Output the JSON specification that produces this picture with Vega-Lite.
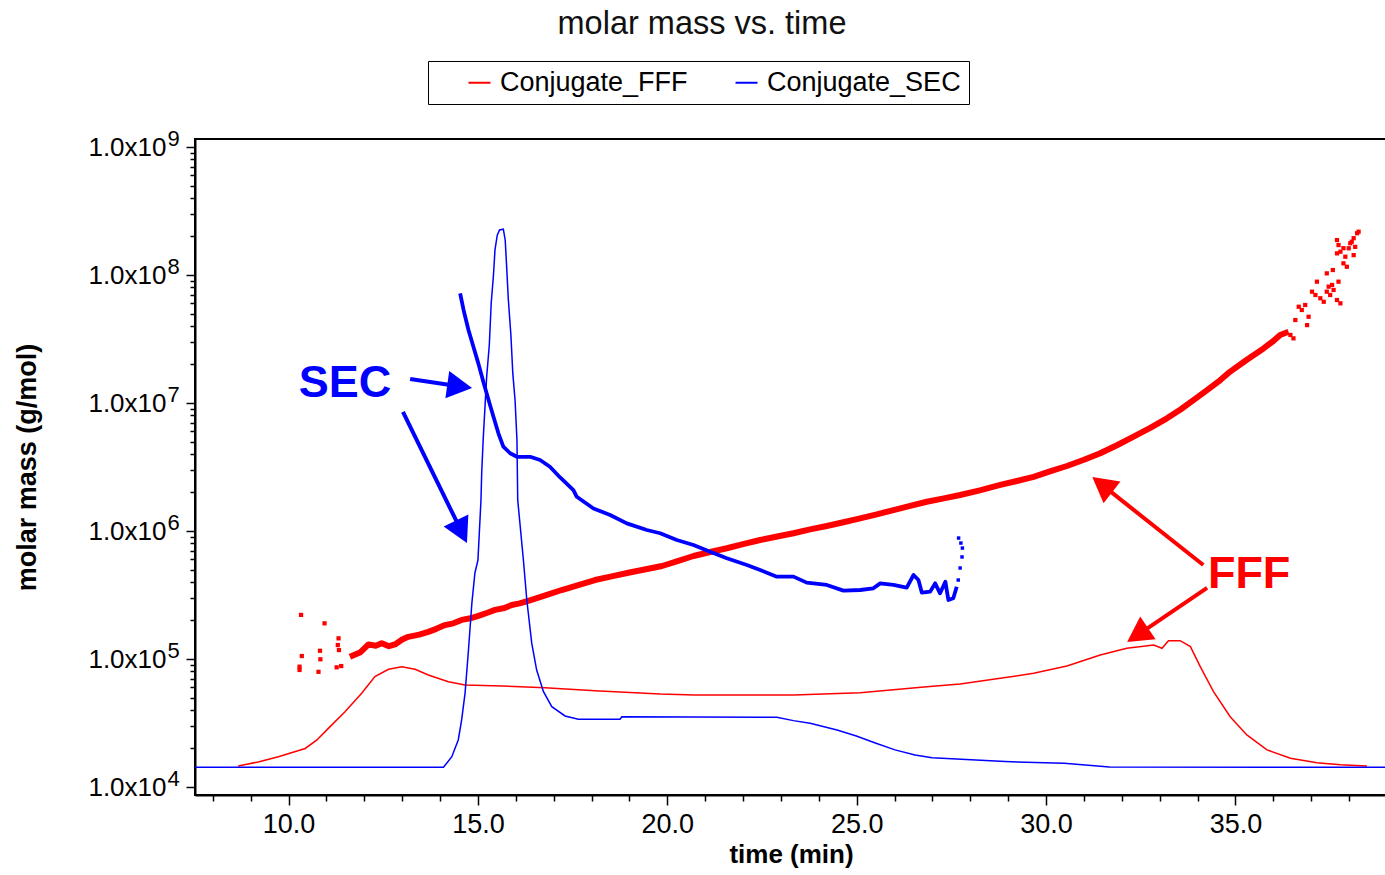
{
  "$schema": "https://vega.github.io/schema/vega-lite/v6.json",
  "width": 1192,
  "height": 656,
  "autosize": {"type": "none"},
  "padding": {"left": 195, "top": 139, "right": 0, "bottom": 80},
  "background": "white",
  "title": {
    "text": "molar mass vs. time",
    "anchor": "middle",
    "frame": "group",
    "dx": -89,
    "offset": 20,
    "fontSize": 32.5,
    "fontWeight": "normal",
    "font": "Liberation Sans",
    "color": "#111111"
  },
  "config": {
    "view": {"stroke": "#000000", "strokeWidth": 2},
    "axis": {
      "labelFont": "Liberation Sans",
      "titleFont": "Liberation Sans",
      "labelColor": "#000000",
      "titleColor": "#000000",
      "tickColor": "#000000",
      "domainColor": "#000000",
      "grid": false
    }
  },
  "datasets": {
    "fffSignal": [
      {"time": 8.67, "mass": 14600}, {"time": 9.2, "mass": 15700}, {"time": 9.73, "mass": 17250},
      {"time": 10.44, "mass": 20000}, {"time": 10.75, "mass": 23300}, {"time": 11.05, "mass": 28700},
      {"time": 11.49, "mass": 38700}, {"time": 11.93, "mass": 54000}, {"time": 12.28, "mass": 72800},
      {"time": 12.64, "mass": 83100}, {"time": 12.99, "mass": 87100}, {"time": 13.34, "mass": 83100},
      {"time": 13.69, "mass": 75000}, {"time": 14.22, "mass": 66500}, {"time": 14.66, "mass": 62700},
      {"time": 15.63, "mass": 61500}, {"time": 16.77, "mass": 59700}, {"time": 18.09, "mass": 56500},
      {"time": 19.81, "mass": 53300}, {"time": 20.73, "mass": 52400}, {"time": 23.33, "mass": 52400},
      {"time": 25.09, "mass": 54600}, {"time": 26.85, "mass": 60800}, {"time": 27.73, "mass": 63800},
      {"time": 28.79, "mass": 70700}, {"time": 29.67, "mass": 77300}, {"time": 30.55, "mass": 88100},
      {"time": 31.43, "mass": 107500}, {"time": 32.13, "mass": 121300}, {"time": 32.84, "mass": 128600},
      {"time": 33.06, "mass": 121300}, {"time": 33.23, "mass": 139000}, {"time": 33.54, "mass": 139000},
      {"time": 33.81, "mass": 125000}, {"time": 34.07, "mass": 87100}, {"time": 34.42, "mass": 55600},
      {"time": 34.86, "mass": 35400}, {"time": 35.3, "mass": 25500}, {"time": 35.83, "mass": 19500},
      {"time": 36.45, "mass": 16800}, {"time": 37.15, "mass": 15500}, {"time": 37.77, "mass": 14900},
      {"time": 38.47, "mass": 14600}
    ],
    "secSignal": [
      {"time": 7.53, "mass": 14250}, {"time": 14.09, "mass": 14250}, {"time": 14.31, "mass": 17250},
      {"time": 14.48, "mass": 23300}, {"time": 14.57, "mass": 33400}, {"time": 14.66, "mass": 54200},
      {"time": 14.75, "mass": 117500}, {"time": 14.84, "mass": 274000}, {"time": 14.92, "mass": 470000},
      {"time": 15.0, "mass": 593000}, {"time": 15.08, "mass": 1746000}, {"time": 15.1, "mass": 2900000},
      {"time": 15.14, "mass": 5300000}, {"time": 15.23, "mass": 16000000}, {"time": 15.3, "mass": 28400000},
      {"time": 15.35, "mass": 60100000}, {"time": 15.41, "mass": 100000000}, {"time": 15.45, "mass": 157000000},
      {"time": 15.51, "mass": 205000000}, {"time": 15.57, "mass": 225000000}, {"time": 15.67, "mass": 228000000},
      {"time": 15.72, "mass": 187000000}, {"time": 15.76, "mass": 113000000}, {"time": 15.8, "mass": 65800000},
      {"time": 15.87, "mass": 34000000}, {"time": 15.92, "mass": 17100000}, {"time": 15.98, "mass": 10500000},
      {"time": 16.03, "mass": 5140000}, {"time": 16.05, "mass": 1750000}, {"time": 16.2, "mass": 593000},
      {"time": 16.29, "mass": 289000}, {"time": 16.42, "mass": 133000}, {"time": 16.55, "mass": 82000},
      {"time": 16.73, "mass": 55600}, {"time": 16.95, "mass": 42400}, {"time": 17.3, "mass": 35900},
      {"time": 17.65, "mass": 33800}, {"time": 18.75, "mass": 33800}, {"time": 18.8, "mass": 35400},
      {"time": 22.89, "mass": 35100}, {"time": 23.33, "mass": 33000}, {"time": 23.77, "mass": 31500},
      {"time": 24.48, "mass": 27900}, {"time": 24.99, "mass": 25000}, {"time": 25.49, "mass": 22100},
      {"time": 26.01, "mass": 19500}, {"time": 26.54, "mass": 17800}, {"time": 26.99, "mass": 16900},
      {"time": 28.92, "mass": 15800}, {"time": 30.48, "mass": 15300}, {"time": 31.67, "mass": 14300},
      {"time": 39.0, "mass": 14250}
    ],
    "fffMass": [
      {"time": 11.62, "mass": 104000}, {"time": 11.9, "mass": 113000}, {"time": 12.11, "mass": 130000},
      {"time": 12.3, "mass": 127000}, {"time": 12.46, "mass": 133000}, {"time": 12.65, "mass": 126000},
      {"time": 12.81, "mass": 130000}, {"time": 13.0, "mass": 142000}, {"time": 13.16, "mass": 149000},
      {"time": 13.45, "mass": 155000}, {"time": 13.69, "mass": 163000}, {"time": 13.9, "mass": 172000},
      {"time": 14.13, "mass": 184000}, {"time": 14.35, "mass": 190000}, {"time": 14.57, "mass": 202000},
      {"time": 14.8, "mass": 208000}, {"time": 15.01, "mass": 217000}, {"time": 15.25, "mass": 230000},
      {"time": 15.45, "mass": 242000}, {"time": 15.7, "mass": 250000}, {"time": 15.89, "mass": 264000},
      {"time": 16.1, "mass": 272000}, {"time": 16.33, "mass": 285000}, {"time": 16.8, "mass": 315000},
      {"time": 17.21, "mass": 346000}, {"time": 17.65, "mass": 378000}, {"time": 18.09, "mass": 414000},
      {"time": 18.5, "mass": 440000}, {"time": 18.97, "mass": 472000}, {"time": 19.4, "mass": 500000},
      {"time": 19.86, "mass": 533000}, {"time": 20.25, "mass": 580000}, {"time": 20.69, "mass": 638000},
      {"time": 21.13, "mass": 685000}, {"time": 21.57, "mass": 733000}, {"time": 22.0, "mass": 790000},
      {"time": 22.45, "mass": 851000}, {"time": 22.9, "mass": 905000}, {"time": 23.33, "mass": 960000},
      {"time": 23.77, "mass": 1030000}, {"time": 24.21, "mass": 1094000}, {"time": 24.65, "mass": 1170000},
      {"time": 25.09, "mass": 1256000}, {"time": 25.53, "mass": 1350000}, {"time": 25.97, "mass": 1458000},
      {"time": 26.41, "mass": 1570000}, {"time": 26.85, "mass": 1693000}, {"time": 27.3, "mass": 1800000},
      {"time": 27.73, "mass": 1910000}, {"time": 28.25, "mass": 2080000}, {"time": 28.79, "mass": 2290000},
      {"time": 29.23, "mass": 2460000}, {"time": 29.67, "mass": 2650000}, {"time": 30.1, "mass": 2920000},
      {"time": 30.55, "mass": 3220000}, {"time": 31.0, "mass": 3600000}, {"time": 31.43, "mass": 4050000},
      {"time": 31.87, "mass": 4680000}, {"time": 32.31, "mass": 5460000}, {"time": 32.75, "mass": 6400000},
      {"time": 33.19, "mass": 7590000}, {"time": 33.55, "mass": 8900000}, {"time": 33.89, "mass": 10540000},
      {"time": 34.25, "mass": 12600000}, {"time": 34.6, "mass": 15100000}, {"time": 34.86, "mass": 17600000},
      {"time": 35.3, "mass": 21800000}, {"time": 35.74, "mass": 26700000}, {"time": 36.0, "mass": 30500000},
      {"time": 36.18, "mass": 34000000}, {"time": 36.4, "mass": 36000000}
    ],
    "fffMassDots": [
      {"time": 10.33, "mass": 221000}, {"time": 10.95, "mass": 190000}, {"time": 11.32, "mass": 145000},
      {"time": 11.3, "mass": 128500}, {"time": 11.33, "mass": 117500}, {"time": 10.83, "mass": 116000},
      {"time": 10.35, "mass": 105500}, {"time": 10.84, "mass": 99500}, {"time": 10.29, "mass": 87100},
      {"time": 10.29, "mass": 82100}, {"time": 10.79, "mass": 79400}, {"time": 11.27, "mass": 86100},
      {"time": 11.39, "mass": 88100},
      {"time": 36.58, "mass": 44500000}, {"time": 36.45, "mass": 34000000}, {"time": 36.53, "mass": 32000000},
      {"time": 36.67, "mass": 56500000}, {"time": 36.75, "mass": 53300000}, {"time": 36.84, "mass": 58300000},
      {"time": 36.93, "mass": 47200000}, {"time": 36.89, "mass": 40600000}, {"time": 37.02, "mass": 74100000},
      {"time": 37.11, "mass": 69800000}, {"time": 37.15, "mass": 88700000}, {"time": 37.24, "mass": 65800000},
      {"time": 37.33, "mass": 61800000}, {"time": 37.41, "mass": 74100000}, {"time": 37.46, "mass": 81100000},
      {"time": 37.5, "mass": 69800000}, {"time": 37.55, "mass": 83600000}, {"time": 37.59, "mass": 76400000},
      {"time": 37.68, "mass": 63800000}, {"time": 37.72, "mass": 88700000}, {"time": 37.77, "mass": 60100000},
      {"time": 37.41, "mass": 103000000}, {"time": 37.57, "mass": 109400000}, {"time": 37.68, "mass": 147600000},
      {"time": 37.72, "mass": 171400000}, {"time": 37.68, "mass": 187500000}, {"time": 37.85, "mass": 123400000},
      {"time": 37.9, "mass": 139000000}, {"time": 37.94, "mass": 116000000}, {"time": 37.99, "mass": 161700000},
      {"time": 38.03, "mass": 177000000}, {"time": 38.07, "mass": 182000000}, {"time": 38.12, "mass": 194000000},
      {"time": 38.16, "mass": 166000000}, {"time": 38.12, "mass": 143000000}, {"time": 38.21, "mass": 212000000},
      {"time": 38.25, "mass": 218000000}, {"time": 37.85, "mass": 162000000}, {"time": 37.77, "mass": 152000000}
    ],
    "secMass": [
      {"time": 14.53, "mass": 71900000}, {"time": 14.62, "mass": 53300000}, {"time": 14.75, "mass": 37200000},
      {"time": 14.88, "mass": 27500000}, {"time": 15.01, "mass": 20400000}, {"time": 15.14, "mass": 14700000},
      {"time": 15.28, "mass": 10550000}, {"time": 15.41, "mass": 7820000}, {"time": 15.54, "mass": 5800000},
      {"time": 15.67, "mass": 4560000}, {"time": 15.85, "mass": 4050000}, {"time": 16.03, "mass": 3800000},
      {"time": 16.38, "mass": 3800000}, {"time": 16.64, "mass": 3590000}, {"time": 16.9, "mass": 3180000},
      {"time": 17.17, "mass": 2620000}, {"time": 17.52, "mass": 2090000}, {"time": 17.61, "mass": 1850000},
      {"time": 18.05, "mass": 1500000}, {"time": 18.49, "mass": 1334000}, {"time": 18.93, "mass": 1148000},
      {"time": 19.46, "mass": 1018000}, {"time": 19.81, "mass": 960000}, {"time": 20.25, "mass": 851000},
      {"time": 20.69, "mass": 778000}, {"time": 21.13, "mass": 689000}, {"time": 21.57, "mass": 612000},
      {"time": 22.1, "mass": 542000}, {"time": 22.45, "mass": 496000}, {"time": 22.89, "mass": 440000},
      {"time": 23.33, "mass": 440000}, {"time": 23.68, "mass": 395000}, {"time": 24.21, "mass": 379000},
      {"time": 24.65, "mass": 342000}, {"time": 25.09, "mass": 346000}, {"time": 25.44, "mass": 357000},
      {"time": 25.62, "mass": 390000}, {"time": 25.97, "mass": 379000}, {"time": 26.32, "mass": 361000},
      {"time": 26.5, "mass": 453000}, {"time": 26.63, "mass": 414000}, {"time": 26.72, "mass": 330000},
      {"time": 26.94, "mass": 336000}, {"time": 27.07, "mass": 390000}, {"time": 27.2, "mass": 326000},
      {"time": 27.34, "mass": 402000}, {"time": 27.42, "mass": 289000}, {"time": 27.55, "mass": 298000},
      {"time": 27.64, "mass": 367000}
    ],
    "secMassDots": [
      {"time": 27.68, "mass": 414000}, {"time": 27.73, "mass": 514000}, {"time": 27.78, "mass": 627000},
      {"time": 27.79, "mass": 736000}, {"time": 27.75, "mass": 805000}, {"time": 27.69, "mass": 881000}
    ],
    "notes": [
      {"note": "SEC", "time": 11.49, "mass": 14300000},
      {"note": "FFF", "time": 35.36, "mass": 461000}
    ],
    "arrows": [
      {"note": "SEC", "arrow": "upper", "time": 13.21, "mass": 15400000, "endTime": 14.45, "endMass": 13600000, "tipTime": 14.845, "tipMass": 13100000},
      {"note": "SEC", "arrow": "lower", "time": 13.02, "mass": 8510000, "endTime": 14.54, "endMass": 1028000, "tipTime": 14.71, "tipMass": 805000},
      {"note": "FFF", "arrow": "upper", "time": 34.15, "mass": 542000, "endTime": 31.53, "endMass": 2230000, "tipTime": 31.22, "tipMass": 2640000},
      {"note": "FFF", "arrow": "lower", "time": 34.25, "mass": 359000, "endTime": 32.47, "endMass": 158000, "tipTime": 32.14, "tipMass": 136000}
    ]
  },
  "resolve": {"axis": {"x": "independent", "y": "independent"}},
  "layer": [
    {
      "data": {"name": "fffSignal"},
      "mark": {"type": "line", "strokeWidth": 1.5, "interpolate": "linear"},
      "encoding": {
        "x": {
          "field": "time", "type": "quantitative",
          "scale": {"domain": [7.53, 39.0], "nice": false, "zero": false},
          "axis": {
            "orient": "bottom", "values": [10, 15, 20, 25, 30, 35],
            "labelExpr": "format(datum.value, '.1f')", "labelFontSize": 27, "labelPadding": 6,
            "labelFlush": false, "labelOverlap": false,
            "tickSize": 10, "tickWidth": 1.5, "domainWidth": 2,
            "title": "time (min)", "titleFontSize": 26, "titleFontWeight": "bold", "titlePadding": 4
          }
        },
        "y": {
          "field": "mass", "type": "quantitative",
          "scale": {"type": "log", "domain": [8660, 1155000000], "nice": false},
          "axis": {
            "orient": "left", "values": [10000, 100000, 1000000, 10000000, 100000000, 1000000000],
            "labelExpr": "'1.0x10'", "labelFontSize": 26, "labelPadding": 20, "labelBaseline": "middle",
            "labelOverlap": false, "labelFlush": false,
            "tickSize": 9, "tickWidth": 1.5, "domainWidth": 2,
            "title": "molar mass (g/mol)", "titleFontSize": 27, "titleFontWeight": "bold", "titlePadding": 46
          }
        },
        "color": {
          "datum": "Conjugate_FFF",
          "scale": {"domain": ["Conjugate_FFF", "Conjugate_SEC"], "range": ["#ff0000", "#0000ff"]},
          "legend": {
            "orient": "none", "legendX": 233, "legendY": -78, "direction": "horizontal", "columns": 2,
            "title": null, "symbolType": "stroke", "symbolSize": 484, "symbolStrokeWidth": 2,
            "labelFontSize": 27, "labelFont": "Liberation Sans", "labelColor": "#000000",
            "labelOffset": 7, "labelLimit": 400, "columnPadding": 15, "padding": 8,
            "strokeColor": "#000000", "fillColor": "#ffffff", "symbolOffset": 30
          }
        }
      }
    },
    {
      "data": {"name": "fffMass"},
      "mark": {"type": "line", "strokeWidth": 6, "strokeJoin": "round"},
      "encoding": {
        "x": {
          "field": "time", "type": "quantitative",
          "axis": {
            "orient": "bottom", "values": [8, 9, 11, 12, 13, 14, 16, 17, 18, 19, 21, 22, 23, 24, 26, 27, 28, 29, 31, 32, 33, 34, 36, 37, 38],
            "labels": false, "tickSize": 6, "tickWidth": 1.5, "domain": false, "title": null
          }
        },
        "y": {
          "field": "mass", "type": "quantitative",
          "axis": {
            "orient": "left",
            "values": [20000, 30000, 40000, 50000, 60000, 70000, 80000, 90000,
                       200000, 300000, 400000, 500000, 600000, 700000, 800000, 900000,
                       2000000, 3000000, 4000000, 5000000, 6000000, 7000000, 8000000, 9000000,
                       20000000, 30000000, 40000000, 50000000, 60000000, 70000000, 80000000, 90000000,
                       200000000, 300000000, 400000000, 500000000, 600000000, 700000000, 800000000, 900000000],
            "labels": false, "tickSize": 5, "tickWidth": 1.5, "domain": false, "title": null
          }
        },
        "color": {"datum": "Conjugate_FFF"}
      }
    },
    {
      "data": {"name": "fffMassDots"},
      "mark": {"type": "point", "shape": "square", "filled": true, "size": 18, "opacity": 1},
      "encoding": {
        "x": {"field": "time", "type": "quantitative", "axis": null},
        "y": {
          "field": "mass", "type": "quantitative",
          "axis": {
            "orient": "left", "values": [10000, 100000, 1000000, 10000000, 100000000, 1000000000],
            "labelExpr": "'' + round(log(datum.value) / LN10)", "labelAlign": "left", "labelBaseline": "middle",
            "labelFontSize": 22, "labelPadding": 28, "labelOffset": -9, "labelOverlap": false, "labelFlush": false,
            "tickSize": 0, "domain": false, "title": null
          }
        },
        "color": {"datum": "Conjugate_FFF"}
      }
    },
    {
      "data": {"name": "secSignal"},
      "mark": {"type": "line", "strokeWidth": 1.5},
      "encoding": {
        "x": {"field": "time", "type": "quantitative", "axis": null},
        "y": {"field": "mass", "type": "quantitative", "axis": null},
        "color": {"datum": "Conjugate_SEC"}
      }
    },
    {
      "data": {"name": "secMass"},
      "mark": {"type": "line", "strokeWidth": 3.8, "strokeJoin": "round"},
      "encoding": {
        "x": {"field": "time", "type": "quantitative", "axis": null},
        "y": {"field": "mass", "type": "quantitative", "axis": null},
        "color": {"datum": "Conjugate_SEC"}
      }
    },
    {
      "data": {"name": "secMassDots"},
      "mark": {"type": "point", "shape": "square", "filled": true, "size": 12, "opacity": 1},
      "encoding": {
        "x": {"field": "time", "type": "quantitative", "axis": null},
        "y": {"field": "mass", "type": "quantitative", "axis": null},
        "color": {"datum": "Conjugate_SEC"}
      }
    },
    {
      "data": {"name": "notes"},
      "transform": [{"filter": "datum.note === 'SEC'"}],
      "mark": {"type": "text", "font": "Liberation Sans", "fontWeight": "bold", "fontSize": 45, "color": "#0000ff", "align": "center", "baseline": "middle"},
      "encoding": {
        "x": {"field": "time", "type": "quantitative", "axis": null},
        "y": {"field": "mass", "type": "quantitative", "axis": null},
        "text": {"field": "note"}
      }
    },
    {
      "data": {"name": "notes"},
      "transform": [{"filter": "datum.note === 'FFF'"}],
      "mark": {"type": "text", "font": "Liberation Sans", "fontWeight": "bold", "fontSize": 45, "color": "#ff0000", "align": "center", "baseline": "middle"},
      "encoding": {
        "x": {"field": "time", "type": "quantitative", "axis": null},
        "y": {"field": "mass", "type": "quantitative", "axis": null},
        "text": {"field": "note"}
      }
    },
    {
      "data": {"name": "arrows"},
      "transform": [{"filter": "datum.note === 'SEC'"}],
      "mark": {"type": "rule", "strokeWidth": 4, "color": "#0000ff"},
      "encoding": {
        "x": {"field": "time", "type": "quantitative", "axis": null},
        "y": {"field": "mass", "type": "quantitative", "axis": null},
        "x2": {"field": "endTime"},
        "y2": {"field": "endMass"}
      }
    },
    {
      "data": {"name": "arrows"},
      "transform": [{"filter": "datum.note === 'FFF'"}],
      "mark": {"type": "rule", "strokeWidth": 4, "color": "#ff0000"},
      "encoding": {
        "x": {"field": "time", "type": "quantitative", "axis": null},
        "y": {"field": "mass", "type": "quantitative", "axis": null},
        "x2": {"field": "endTime"},
        "y2": {"field": "endMass"}
      }
    },
    {
      "data": {"name": "arrows"},
      "transform": [{"filter": "datum.note === 'SEC' && datum.arrow === 'upper'"}],
      "mark": {"type": "point", "shape": "M0,0L0.55,1L-0.55,1Z", "size": 2500, "filled": true, "opacity": 1, "color": "#0000ff", "angle": 98},
      "encoding": {
        "x": {"field": "tipTime", "type": "quantitative", "axis": null},
        "y": {"field": "tipMass", "type": "quantitative", "axis": null}
      }
    },
    {
      "data": {"name": "arrows"},
      "transform": [{"filter": "datum.note === 'SEC' && datum.arrow === 'lower'"}],
      "mark": {"type": "point", "shape": "M0,0L0.55,1L-0.55,1Z", "size": 2500, "filled": true, "opacity": 1, "color": "#0000ff", "angle": 154},
      "encoding": {
        "x": {"field": "tipTime", "type": "quantitative", "axis": null},
        "y": {"field": "tipMass", "type": "quantitative", "axis": null}
      }
    },
    {
      "data": {"name": "arrows"},
      "transform": [{"filter": "datum.note === 'FFF' && datum.arrow === 'upper'"}],
      "mark": {"type": "point", "shape": "M0,0L0.55,1L-0.55,1Z", "size": 2500, "filled": true, "opacity": 1, "color": "#ff0000", "angle": 308},
      "encoding": {
        "x": {"field": "tipTime", "type": "quantitative", "axis": null},
        "y": {"field": "tipMass", "type": "quantitative", "axis": null}
      }
    },
    {
      "data": {"name": "arrows"},
      "transform": [{"filter": "datum.note === 'FFF' && datum.arrow === 'lower'"}],
      "mark": {"type": "point", "shape": "M0,0L0.55,1L-0.55,1Z", "size": 2500, "filled": true, "opacity": 1, "color": "#ff0000", "angle": 236},
      "encoding": {
        "x": {"field": "tipTime", "type": "quantitative", "axis": null},
        "y": {"field": "tipMass", "type": "quantitative", "axis": null}
      }
    }
  ]
}
